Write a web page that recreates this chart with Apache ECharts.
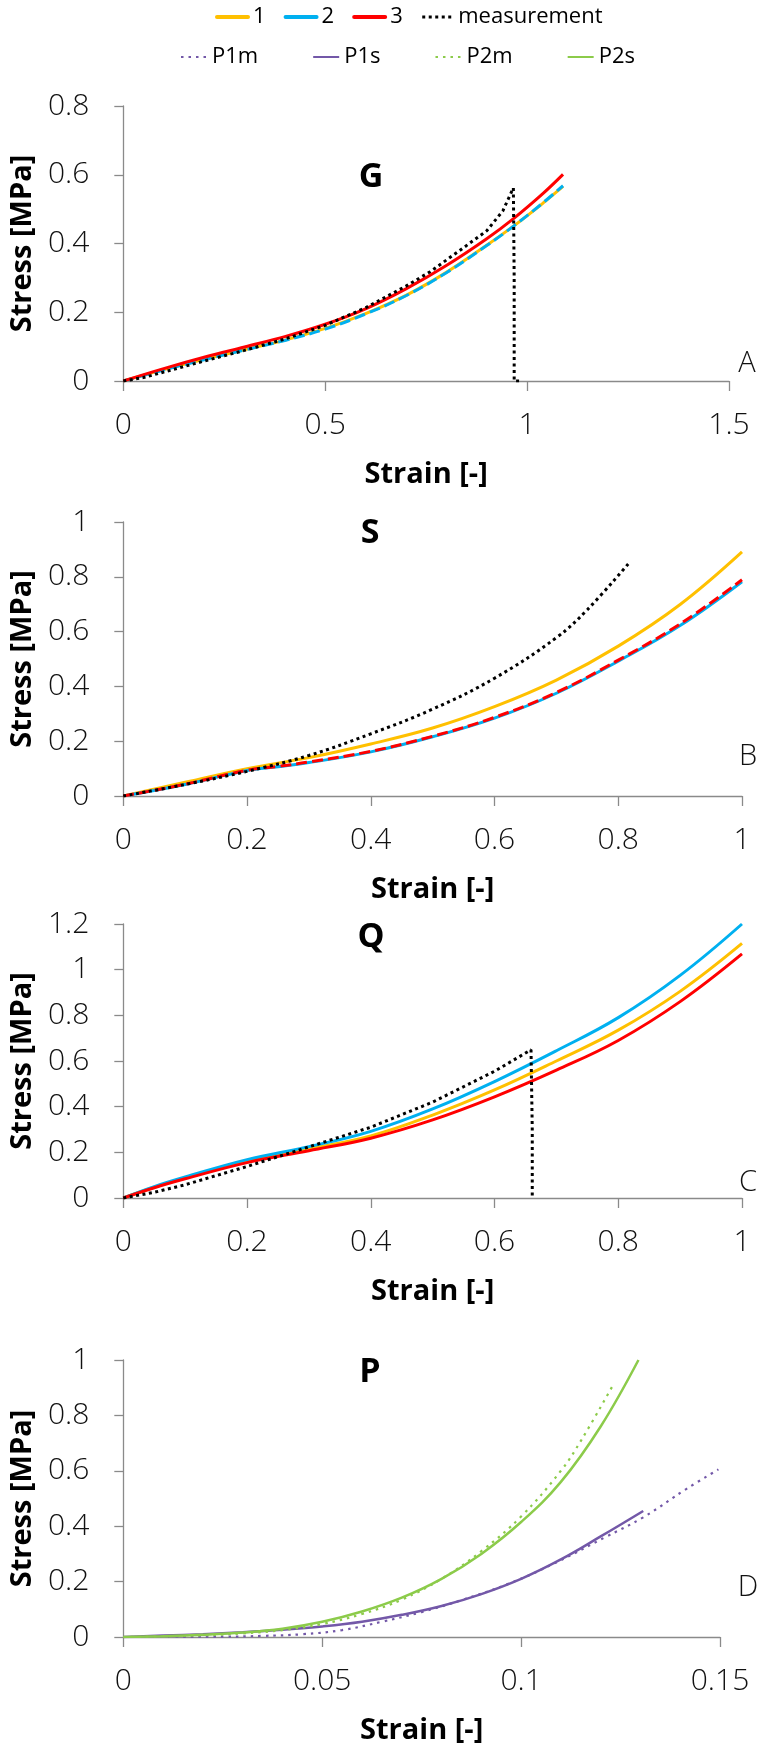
<!DOCTYPE html>
<html>
<head>
<meta charset="utf-8">
<script src="https://cdn.jsdelivr.net/npm/echarts@6/dist/echarts.min.js"></script>
<style>
html,body{margin:0;padding:0;background:#fff;}
#chart{width:758px;height:1748px;}
</style>
</head>
<body>
<div id="chart"></div>
<script>
// ---------- tick values ----------
const xTicksA = [0, 0.5, 1, 1.5];
const xTicksB = [0, 0.2, 0.4, 0.6, 0.8, 1];
const xTicksC = [0, 0.2, 0.4, 0.6, 0.8, 1];
const xTicksD = [0, 0.05, 0.1, 0.15];
const yTicksA = [0, 0.2, 0.4, 0.6, 0.8];
const yTicksB = [0, 0.2, 0.4, 0.6, 0.8, 1];
const yTicksC = [0, 0.2, 0.4, 0.6, 0.8, 1, 1.2];
const yTicksD = [0, 0.2, 0.4, 0.6, 0.8, 1];

const panelTitles = ['G', 'S', 'Q', 'P'];
const panelLetters = ['A', 'B', 'C', 'D'];
const xName = 'Strain [-]';
const yName = 'Stress [MPa]';

// ---------- panel A (G) : [strain, stress] ----------
const A_1 = [[0,0],[0.1,0.033],[0.2,0.063],[0.3,0.091],[0.4,0.119],[0.5,0.153],[0.6,0.196],[0.7,0.249],[0.8,0.316],[0.9,0.395],[0.968,0.452],[1.04,0.518],[1.089,0.566]];
const A_2 = [[0,0],[0.1,0.032],[0.2,0.062],[0.3,0.090],[0.4,0.118],[0.5,0.151],[0.6,0.195],[0.7,0.248],[0.8,0.315],[0.9,0.394],[0.968,0.452],[1.04,0.519],[1.089,0.568]];
const A_3 = [[0,0],[0.1,0.036],[0.2,0.069],[0.3,0.099],[0.4,0.129],[0.5,0.165],[0.6,0.210],[0.7,0.268],[0.8,0.336],[0.9,0.414],[0.968,0.474],[1.039,0.545],[1.089,0.601]];
const A_meas = [[0,0],[0.05,0.01],[0.1,0.026],[0.2,0.058],[0.3,0.089],[0.4,0.122],[0.5,0.162],[0.6,0.213],[0.7,0.276],[0.76,0.318],[0.83,0.377],[0.9,0.437],[0.94,0.495],[0.966,0.562],[0.968,0.3],[0.968,0],[0.985,0]];

// ---------- panel B (S) ----------
const B_1 = [[0,0],[0.1,0.05],[0.2,0.1],[0.3,0.14],[0.4,0.19],[0.5,0.248],[0.6,0.326],[0.7,0.423],[0.8,0.547],[0.9,0.699],[1.0,0.891]];
const B_2 = [[0,0],[0.1,0.042],[0.2,0.093],[0.25,0.107],[0.3,0.122],[0.4,0.161],[0.5,0.216],[0.6,0.284],[0.7,0.375],[0.8,0.492],[0.9,0.622],[1.0,0.782]];
const B_3 = [[0,0],[0.1,0.043],[0.2,0.094],[0.25,0.108],[0.3,0.124],[0.4,0.163],[0.5,0.218],[0.6,0.287],[0.7,0.378],[0.8,0.496],[0.9,0.628],[1.0,0.789]];
const B_meas = [[0,0],[0.1,0.042],[0.2,0.09],[0.3,0.148],[0.4,0.227],[0.5,0.317],[0.6,0.43],[0.7,0.578],[0.75,0.68],[0.818,0.852]];

// ---------- panel C (Q) ----------
const C_1 = [[0,0],[0.05,0.047],[0.1,0.088],[0.2,0.16],[0.3,0.215],[0.4,0.272],[0.5,0.363],[0.6,0.473],[0.7,0.6],[0.8,0.735],[0.9,0.905],[1.0,1.115]];
const C_2 = [[0,0],[0.05,0.05],[0.1,0.092],[0.2,0.168],[0.3,0.225],[0.4,0.292],[0.5,0.39],[0.6,0.51],[0.7,0.645],[0.8,0.79],[0.9,0.975],[1.0,1.2]];
const C_3 = [[0,0],[0.05,0.045],[0.1,0.084],[0.2,0.155],[0.3,0.207],[0.4,0.262],[0.5,0.342],[0.6,0.443],[0.7,0.56],[0.8,0.69],[0.9,0.86],[1.0,1.069]];
const C_meas = [[0,0],[0.05,0.025],[0.1,0.058],[0.2,0.138],[0.3,0.224],[0.4,0.31],[0.5,0.42],[0.6,0.555],[0.659,0.649],[0.661,0.3],[0.661,0]];

// ---------- panel D (P) ----------
const D_P1m = [[0,0],[0.025,0.001],[0.035,0.004],[0.045,0.01],[0.055,0.025],[0.065,0.055],[0.075,0.09],[0.085,0.133],[0.097,0.193],[0.1091,0.271],[0.1211,0.36],[0.1307,0.432],[0.1416,0.535],[0.1496,0.605]];
const D_P1s = [[0,0],[0.01,0.005],[0.02,0.01],[0.03,0.017],[0.04,0.026],[0.05,0.038],[0.06,0.055],[0.07,0.08],[0.08,0.112],[0.09,0.155],[0.1,0.21],[0.11,0.28],[0.12,0.363],[0.1307,0.455]];
const D_P2m = [[0,0],[0.01,0.002],[0.02,0.006],[0.03,0.013],[0.04,0.025],[0.05,0.047],[0.06,0.083],[0.07,0.135],[0.08,0.21],[0.09,0.31],[0.1,0.435],[0.11,0.6],[0.1151,0.71],[0.1229,0.904]];
const D_P2s = [[0,0],[0.01,0.003],[0.02,0.008],[0.03,0.016],[0.04,0.03],[0.05,0.055],[0.06,0.092],[0.07,0.142],[0.08,0.21],[0.09,0.3],[0.1,0.415],[0.11,0.56],[0.12,0.76],[0.1295,1.0]];

// ---------- styling ----------
const FONT = '"Open Sans", "Noto Sans", sans-serif';
const AXIS_COLOR = '#8a8a8a';
const C1 = '#FFC000', C2 = '#00B0F0', C3 = '#FF0000', CM = '#000000';
const CP1 = '#7358A8', CP2 = '#8CCB4A';

const grids = [
  {left: 117, top: 106, width: 612, height: 275},
  {left: 117, top: 522, width: 625, height: 274},
  {left: 117, top: 924, width: 625, height: 274},
  {left: 117, top: 1360, width: 603, height: 277}
];

function xAxis(i, ticks) {
  return {
    type: 'value', gridIndex: i,
    min: ticks[0], max: ticks[ticks.length - 1], interval: ticks[1] - ticks[0],
    axisLine: {show: true, onZero: false, lineStyle: {color: AXIS_COLOR, width: 1.3}},
    axisTick: {show: true, length: 10, lineStyle: {color: AXIS_COLOR, width: 1.3}},
    splitLine: {show: false},
    axisLabel: {fontSize: 30, fontFamily: FONT, fontWeight: 300, color: '#111', margin: 29},
    name: xName, nameLocation: 'middle', nameGap: 79,
    nameTextStyle: {fontSize: 29, fontWeight: 'bold', fontFamily: FONT, color: '#000'}
  };
}
function yAxis(i, ticks) {
  return {
    type: 'value', gridIndex: i,
    min: ticks[0], max: ticks[ticks.length - 1], interval: ticks[1] - ticks[0],
    axisLine: {show: true, onZero: false, lineStyle: {color: AXIS_COLOR, width: 1.3}},
    axisTick: {show: true, length: 9, lineStyle: {color: AXIS_COLOR, width: 1.3}},
    splitLine: {show: false},
    axisLabel: {fontSize: 30, fontFamily: FONT, fontWeight: 300, color: '#111', margin: 34},
    name: yName, nameLocation: 'middle', nameGap: 84,
    nameTextStyle: {fontSize: 29, fontWeight: 'bold', fontFamily: FONT, color: '#000'}
  };
}

function line(name, data, idx, color, width, type, smooth) {
  return {
    type: 'line', name: name, data: data,
    xAxisIndex: idx, yAxisIndex: idx,
    symbol: 'none', smooth: smooth === undefined ? 0.4 : smooth,
    lineStyle: {color: color, width: width, type: type || 'solid', cap: 'butt'},
    itemStyle: {color: color},
    emphasis: {disabled: true},
    animation: false
  };
}

const DOT = [3, 3.5];
const DASH = [11, 5];
const DOT_D = [2.5, 5];

const series = [
  line('1', A_1, 0, C1, 3),
  line('2', A_2, 0, C2, 3, DASH),
  line('3', A_3, 0, C3, 3),
  line('measurement', A_meas, 0, CM, 3, DOT, false),

  line('1', B_1, 1, C1, 3),
  line('2', B_2, 1, C2, 3),
  line('3', B_3, 1, C3, 3, DASH),
  line('measurement', B_meas, 1, CM, 3, DOT),

  line('1', C_1, 2, C1, 3),
  line('2', C_2, 2, C2, 3),
  line('3', C_3, 2, C3, 3),
  line('measurement', C_meas, 2, CM, 3, DOT, false),

  line('P1m', D_P1m, 3, CP1, 2.2, DOT_D),
  line('P1s', D_P1s, 3, CP1, 2.5),
  line('P2m', D_P2m, 3, CP2, 2.2, DOT_D),
  line('P2s', D_P2s, 3, CP2, 2.5)
];

const titleCenters = [[371, 177], [370, 533], [371, 937], [370, 1372]];
const letterCenters = [[747, 364], [748, 757], [748, 1183], [748, 1588]];

const graphics = [];
panelTitles.forEach((t, i) => graphics.push({
  type: 'text', x: titleCenters[i][0], y: titleCenters[i][1], silent: true,
  style: {text: t, fontSize: 34, fontWeight: 'bold', fontFamily: FONT, fill: '#000', align: 'center', verticalAlign: 'middle'}
}));
panelLetters.forEach((t, i) => graphics.push({
  type: 'text', x: letterCenters[i][0], y: letterCenters[i][1], silent: true,
  style: {text: t, fontSize: 29, fontWeight: 300, fontFamily: FONT, fill: '#111', align: 'center', verticalAlign: 'middle'}
}));

const legendText = {fontSize: 22, fontFamily: FONT, color: '#000'};

const option = {
  backgroundColor: '#ffffff',
  animation: false,
  grid: grids,
  xAxis: [xAxis(0, xTicksA), xAxis(1, xTicksB), xAxis(2, xTicksC), xAxis(3, xTicksD)],
  yAxis: [yAxis(0, yTicksA), yAxis(1, yTicksB), yAxis(2, yTicksC), yAxis(3, yTicksD)],
  legend: [
    {
      left: 210, top: 1, itemWidth: 31, itemHeight: 14, itemGap: 18,
      textStyle: legendText, selectedMode: false,
      itemStyle: {opacity: 0},
      lineStyle: {width: 4, cap: 'round'},
      data: [
        {name: '1', lineStyle: {type: 'solid'}},
        {name: '2', lineStyle: {type: 'solid'}},
        {name: '3', lineStyle: {type: 'solid'}},
        {name: 'measurement', lineStyle: {width: 3, cap: 'butt'}}
      ]
    },
    {
      left: 175, top: 41, itemWidth: 26, itemHeight: 14, itemGap: 54,
      textStyle: legendText, selectedMode: false,
      itemStyle: {opacity: 0},
      data: ['P1m', 'P1s', 'P2m', 'P2s']
    }
  ],
  graphic: graphics,
  series: series
};

const chart = echarts.init(document.getElementById('chart'), null, {renderer: 'canvas'});
chart.setOption(option);
</script>
</body>
</html>
